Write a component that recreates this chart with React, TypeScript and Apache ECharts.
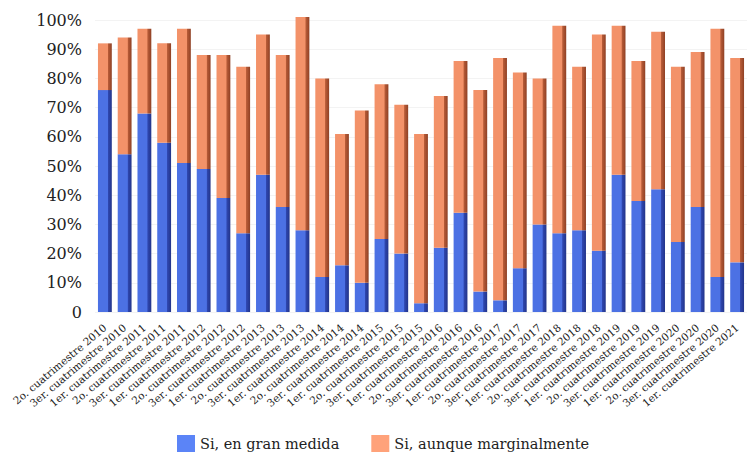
import React, { useEffect, useRef } from "react";
import * as echarts from "echarts";

const categories = [
  "2o. cuatrimestre 2010", "3er. cuatrimestre 2010",
  "1er. cuatrimestre 2011", "2o. cuatrimestre 2011", "3er. cuatrimestre 2011",
  "1er. cuatrimestre 2012", "2o. cuatrimestre 2012", "3er. cuatrimestre 2012",
  "1er. cuatrimestre 2013", "2o. cuatrimestre 2013", "3er. cuatrimestre 2013",
  "1er. cuatrimestre 2014", "2o. cuatrimestre 2014", "3er. cuatrimestre 2014",
  "1er. cuatrimestre 2015", "2o. cuatrimestre 2015", "3er. cuatrimestre 2015",
  "1er. cuatrimestre 2016", "2o. cuatrimestre 2016", "3er. cuatrimestre 2016",
  "1er. cuatrimestre 2017", "2o. cuatrimestre 2017", "3er. cuatrimestre 2017",
  "1er. cuatrimestre 2018", "2o. cuatrimestre 2018", "3er. cuatrimestre 2018",
  "1er. cuatrimestre 2019", "2o. cuatrimestre 2019", "3er. cuatrimestre 2019",
  "1er. cuatrimestre 2020", "2o. cuatrimestre 2020", "3er. cuatrimestre 2020",
  "1er. cuatrimestre 2021",
];

const granMedida = [76, 54, 68, 58, 51, 49, 39, 27, 47, 36, 28, 12, 16, 10, 25, 20, 3, 22, 34, 7, 4, 15, 30, 27, 28, 21, 47, 38, 42, 24, 36, 12, 17];
const marginalmente = [16, 40, 29, 34, 46, 39, 49, 57, 48, 52, 73, 68, 45, 59, 53, 51, 58, 52, 52, 69, 83, 67, 50, 71, 56, 74, 51, 48, 54, 60, 53, 85, 70];

const seriesNames = ["Si, en gran medida", "Si, aunque marginalmente"];
const FONT = "DejaVu Serif";

function barGradient(front: string, side: string, edge: string) {
  return new echarts.graphic.LinearGradient(0, 0, 1, 0, [
    { offset: 0, color: front },
    { offset: 0.7, color: front },
    { offset: 0.74, color: side },
    { offset: 1, color: edge },
  ]);
}

export default function App() {
  const ref = useRef<HTMLDivElement>(null);
  useEffect(() => {
    if (!ref.current) return;
    const chart = echarts.init(ref.current, undefined, { renderer: "svg" });
    chart.setOption({
      animation: false,
      backgroundColor: "#ffffff",
      grid: { left: 95, right: 7, top: 20, height: 292 },
      legend: {
        left: 177,
        top: 435,
        padding: 0,
        icon: "rect",
        itemWidth: 18,
        itemHeight: 17,
        itemGap: 32,
        textStyle: { fontFamily: FONT, fontSize: 14.5, color: "#222" },
        data: [
          { name: seriesNames[0], itemStyle: { color: "#5b84f7" } },
          { name: seriesNames[1], itemStyle: { color: "#ffa27a" } },
        ],
      },
      xAxis: {
        type: "category",
        data: categories,
        axisLine: { show: false },
        axisTick: { show: false },
        axisLabel: {
          interval: 0,
          rotate: 40,
          fontFamily: FONT,
          fontSize: 10.5,
          color: "#222",
          margin: 14,
        },
      },
      yAxis: {
        type: "value",
        min: 0,
        max: 100,
        interval: 10,
        axisLine: { show: false },
        axisTick: { show: false },
        splitLine: { lineStyle: { color: "#f3f3f3" } },
        axisLabel: {
          formatter: (v: number) => (v === 0 ? "0" : v + "%"),
          fontFamily: FONT,
          fontSize: 16,
          color: "#222",
          margin: 13,
        },
      },
      series: [
        {
          name: seriesNames[0],
          type: "bar",
          stack: "total",
          barWidth: "70%",
          clip: false,
          data: granMedida,
          itemStyle: { color: barGradient("#4c71e4", "#2f47b0", "#22348a") },
        },
        {
          name: seriesNames[1],
          type: "bar",
          stack: "total",
          barWidth: "70%",
          clip: false,
          data: marginalmente,
          itemStyle: { color: barGradient("#f39269", "#b85c38", "#8f4024") },
        },
      ],
    });
    return () => chart.dispose();
  }, []);
  return (
    <div
      ref={ref}
      style={{ position: "fixed", left: 0, top: 0, width: 754, height: 458, background: "#fff" }}
    />
  );
}
